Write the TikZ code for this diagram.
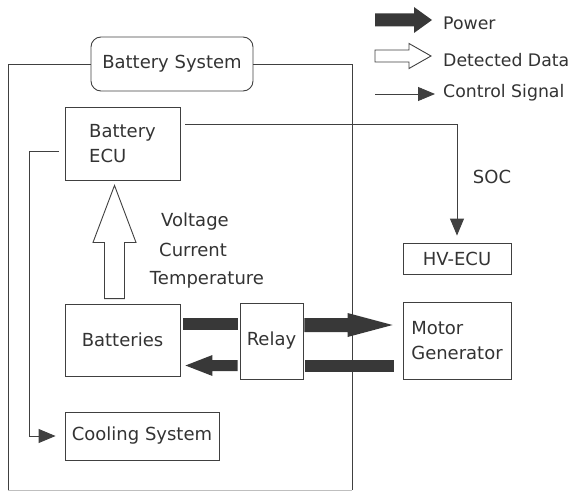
\documentclass[tikz,border=0pt]{standalone}
\usepackage{fontspec}
\setmainfont{DejaVu Sans}
\usetikzlibrary{arrows.meta, calc}
\newcommand{\fatarrow}[6]{% #1 = style, #2 = tail, #3 = tip, #4 = shaft half width, #5 = head half width, #6 = head length
  \coordinate (hb) at ($(#3)!#6pt!(#2)$);
  \path[#1] ($(#2)!#4pt!90:(#3)$) -- ($(hb)!#4pt!90:(#3)$) -- ($(hb)!#5pt!90:(#3)$) -- (#3)
    -- ($(hb)!#5pt!-90:(#3)$) -- ($(hb)!#4pt!-90:(#3)$) -- ($(#2)!#4pt!-90:(#3)$) -- cycle;
}
\tikzset{
    box/.style={draw=black!75, line width=0.9pt, text=black!80, inner sep=0pt, align=left},
    signal/.style={draw=black!75, line width=0.9pt, -{Triangle[length=17pt, width=14pt]}},
    power/.style={fill=black!78},
    data/.style={draw=black!75, line width=0.9pt, fill=white},
    txt/.style={text=black!80, inner sep=0pt},
    legend/.style={txt, anchor=west, font=\fontsize{17.3}{25}\selectfont},
    frame/.style={draw=black!75, line width=0.9pt},
    }

\begin{document}
\begin{tikzpicture}[x=1pt, y=-1pt, font=\fontsize{18}{25}\selectfont]
    \useasboundingbox (0,0) rectangle (569,492);

    % legend
    \coordinate (pwA) at (375,20);
    \coordinate (pwB) at (432,20);
    \fatarrow{power}{pwA}{pwB}{6.5}{13}{18}
    \node[legend] (pwlbl) at (443,23) {Power};

    \coordinate (ddA) at (375,56);
    \coordinate (ddB) at (431,56);
    \fatarrow{data}{ddA}{ddB}{6}{12.5}{22}
    \node[legend] (ddlbl) at (443,60) {Detected Data};

    \coordinate (csA) at (375,94);
    \coordinate (csB) at (435,94);
    \draw[signal] (csA) -- (csB);
    \node[legend] (cslbl) at (443,93) {Control Signal};

    % blocks
    \node[box, rounded corners=10pt, minimum width=162pt, minimum height=54pt] (sys) at (172,64) {Battery System};
    \node[box, minimum width=115pt, minimum height=73pt] (ecu) at (122.5,143.5) {Battery\\ECU};
    \node[box, minimum width=108pt, minimum height=31pt] (hv) at (457,258.5) {HV-ECU};
    \node[box, minimum width=115pt, minimum height=72pt] (bat) at (122.5,340) {Batteries};
    \node[box, minimum width=63pt, minimum height=76pt] (relay) at (271.5,341) {Relay};
    \node[box, minimum width=108pt, minimum height=77pt] (mg) at (457,340.5) {Motor\\Generator};
    \node[box, minimum width=154pt, minimum height=48pt] (cool) at (142,436) {Cooling System};

    % battery system frame
    \draw[frame] (8,490) |- (sys.west);
    \draw[frame] (sys.east) -| (352,490);
    \draw[frame, draw=black!25] (8,490) -- (352,490);

    % control signals
    \coordinate (socA) at (185,124);
    \draw[signal, shorten >=7pt] (socA) -| (hv.north);
    \node[txt] (soc) at (492,177) {SOC};

    \coordinate (coolA) at (59,151);
    \draw[signal, shorten >=9pt] (coolA) -- ++(-30,0) |- (cool.west);

    % detected data
    \coordinate (vA) at ($(bat.north)+(-8,-5)$);
    \coordinate (vB) at ($(ecu.south)+(-8,5)$);
    \fatarrow{data}{vA}{vB}{10}{21.5}{57}
    \node[txt] (volt) at (195,222) {Voltage};
    \node[txt] (curr) at (193,250) {Current};
    \node[txt] (temp) at (207,280) {Temperature};

    % power flow
    \fill[power] ($(bat.east)+(3,-22)$) rectangle ($(relay.west)+(-2,-11)$);
    \coordinate (p1A) at ($(relay.east)+(1,-16)$);
    \coordinate (p1B) at ($(mg.west)+(-10,-15.5)$);
    \fatarrow{power}{p1A}{p1B}{7}{12}{45}

    \fill[power] ($(relay.east)+(2,19)$) rectangle ($(mg.west)+(-9,31.5)$);
    \coordinate (p2A) at ($(relay.west)+(-2,24.5)$);
    \coordinate (p2B) at ($(bat.east)+(5,25.5)$);
    \fatarrow{power}{p2A}{p2B}{5.5}{10.5}{27}

\end{tikzpicture}
\end{document}
